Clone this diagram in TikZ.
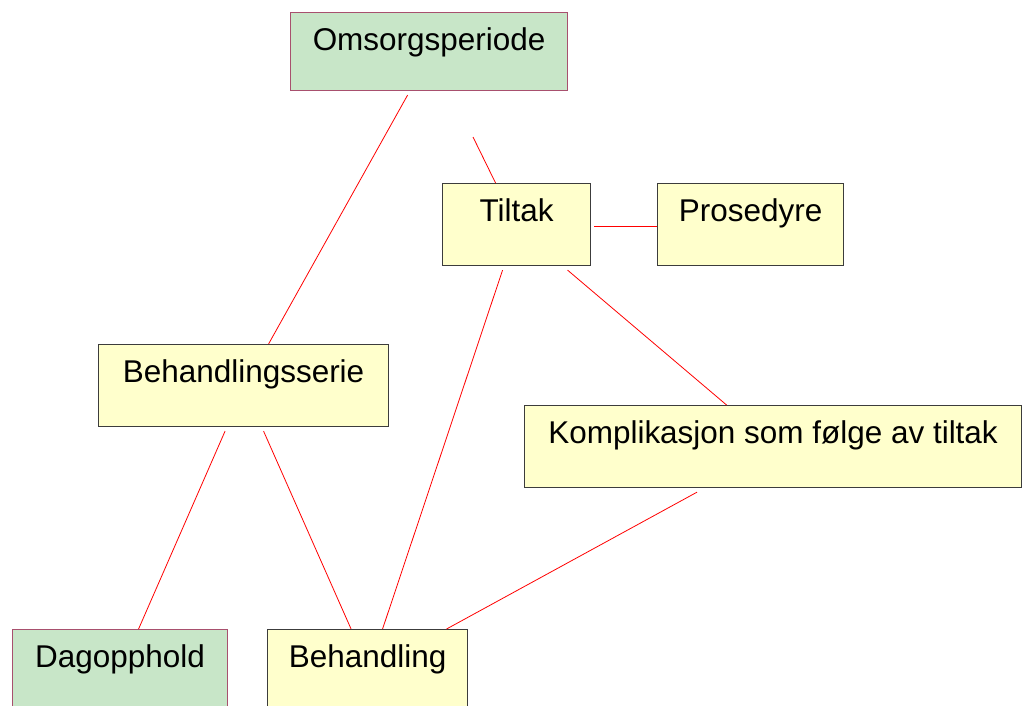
\documentclass[tikz,border=0pt]{standalone}
\usepackage{fontspec}
\setmainfont{Liberation Sans}
\usetikzlibrary{calc}
\definecolor{boxgreen}{HTML}{C8E6C8}
\definecolor{greenedge}{HTML}{A8506E}
\definecolor{boxyellow}{HTML}{FFFFCC}
\definecolor{yellowedge}{HTML}{3C3C3C}
\begin{document}
\begin{tikzpicture}[x=0.75pt,y=-0.75pt,
  entity/.style={draw, line width=0.85pt, rectangle, inner sep=0pt, anchor=north west,
    text height=28.5pt, text depth=33pt, minimum height=61.5pt,
    font=\fontsize{23.6}{28}\selectfont},
  greenbox/.style={entity, fill=boxgreen, draw=greenedge},
  yellowbox/.style={entity, fill=boxyellow, draw=yellowedge},
  link/.style={draw=red, line width=0.6pt}]
\useasboundingbox (0,0) rectangle (1022,706);
\clip (0,0) rectangle (1022,706);
\fill[white] (0,0) rectangle (1022,706);

% entities
\node[greenbox, minimum width=207.75pt, minimum height=58.5pt, text depth=30pt] (omsorg) at (290,12) {Omsorgsperiode};
\node[yellowbox, minimum width=111pt] (tiltak) at (442,183) {Tiltak};
\node[yellowbox, minimum width=139.5pt] (prosedyre) at (657,183) {Prosedyre};
\node[yellowbox, minimum width=217.5pt] (serie) at (98,344) {Behandlingsserie};
\node[yellowbox, minimum width=372.75pt] (kompl) at (524,405) {Komplikasjon som følge av tiltak};
\node[greenbox, minimum width=161.25pt] (dag) at (12,629) {Dagopphold};
\node[yellowbox, minimum width=150pt] (behandling) at (267,629) {Behandling};

% free end of the link leaving Tiltak upwards
\coordinate (tiltakfree) at (473,137);

% links
\draw[link] ($(omsorg.south)+(-21.5,4)$) -- ($(serie.north)+(25,0)$);
\draw[link] (tiltakfree) -- ($(tiltak.north)+(-21,0)$);
\draw[link] ($(tiltak.east)+(3,2)$) -- ($(prosedyre.west)+(0,2)$);
\draw[link] ($(tiltak.south)+(-14,4)$) -- ($(behandling.north)+(15,0)$);
\draw[link] ($(tiltak.south)+(51,4)$) -- ($(kompl.north)+(-46.5,0)$);
\draw[link] ($(serie.south)+(-18.5,4)$) -- ($(dag.north)+(18.5,0)$);
\draw[link] ($(serie.south)+(20,4)$) -- ($(behandling.north)+(-16.5,0)$);
\draw[link] ($(kompl.south)+(-76,4)$) -- ($(behandling.north)+(79,0)$);
\end{tikzpicture}
\end{document}
